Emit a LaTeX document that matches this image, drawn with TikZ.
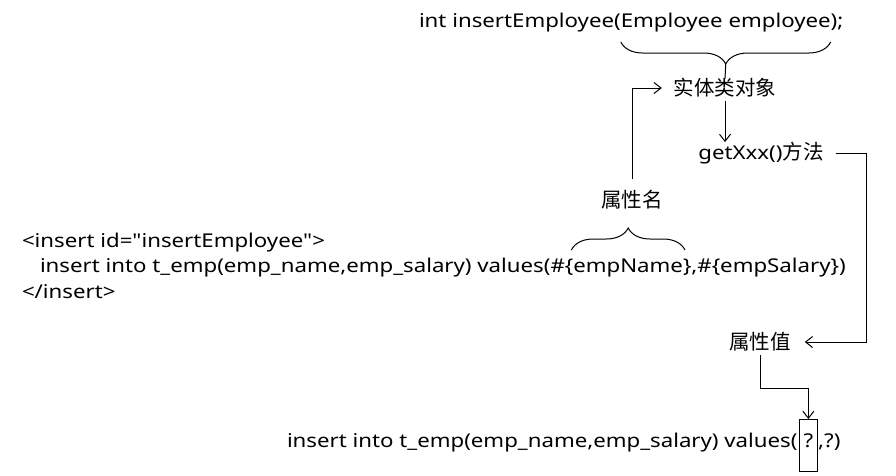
\documentclass[tikz,border=0pt]{standalone}
\usepackage{fontspec}
\setmainfont{Noto Sans}[FakeStretch=1.17,Ligatures=TeXOff]
\newfontfamily\cjk{Noto Sans CJK SC}
\usetikzlibrary{decorations.pathreplacing,arrows.meta,calc}
\begin{document}
\begin{tikzpicture}[x=1pt,y=-1pt,
  every node/.style={inner sep=0pt, outer sep=0pt, font=\fontsize{19}{23}\selectfont},
  txt/.style={anchor=base west},
  cn/.style={font=\fontsize{20.5}{24}\selectfont\cjk},
  ln/.style={line width=1pt},
  arr/.style={ln,-{Straight Barb[length=7pt,width=11pt]}},
  brc/.style={ln,decorate,decoration={brace,amplitude=22pt,aspect=0.5}}]
\useasboundingbox (0,0) rectangle (896,475);
% top signature
\node[txt] (t1) at (419,27) {int insertEmployee(};
\node[txt] (t2) at (t1.base east) {Employee employee};
\node[txt] (t3) at (t2.base east) {);};
\draw[brc,decoration={mirror}] ($(t2.base west)+(0,15)$) -- ($(t2.base east)+(0,15)$) coordinate[midway] (tb);
\coordinate (tbtip) at ($(tb)+(0,22)$);
% labels
\node[cn] (obj) at (725,88) {实体类对象};
\node (get) at (761,153) {getXxx()\cjk\fontsize{20.5}{24}\selectfont 方法};
\node[cn] (pname) at (632,200) {属性名};
\node[cn] (pval) at (760,342) {属性值};
% mapper xml
\node[txt] (x1) at (22,247) {<insert id="insertEmployee">};
\node[txt] (x2a) at (40,272) {insert into t\_emp(emp\_name,emp\_salary) values(\#\{};
\node[txt] (x2b) at (x2a.base east) {empName};
\node[txt] (x2c) at (x2b.base east) {\},\#\{empSalary\})};
\node[txt] (x3) at (22,298) {</insert>};
\draw[brc] ($(x2b.base west)+(-2,-22)$) -- ($(x2b.base east)+(2,-22)$);
% bottom sql
\node[txt] (b1) at (287,447) {insert into t\_emp(emp\_name,emp\_salary) values(};
\node[txt,draw,line width=1pt,inner xsep=4pt,text height=28pt,text depth=24pt] (qbox) at ($(b1.base east)+(2,0)$) {?};
\node[txt] (b3) at ($(qbox.base east)+(1,0)$) {,?)};
% connectors
\draw[ln] (tbtip) -- (obj.north);
\draw[arr,shorten <=3pt] (obj.south) -- (obj.south |- get.north);
\draw[arr,shorten <=12pt,shorten >=12pt] (pname.north) |- (obj.west);
\coordinate (rc) at (866,0);
\draw[arr,shorten <=12pt,shorten >=14pt] (get.east) -| (rc |- pval.east) -- (pval.east);
\coordinate (mc) at (0,388);
\draw[arr,shorten <=4pt] (pval.south) -- (pval.south |- mc) -| (qbox.north);
\end{tikzpicture}
\end{document}
